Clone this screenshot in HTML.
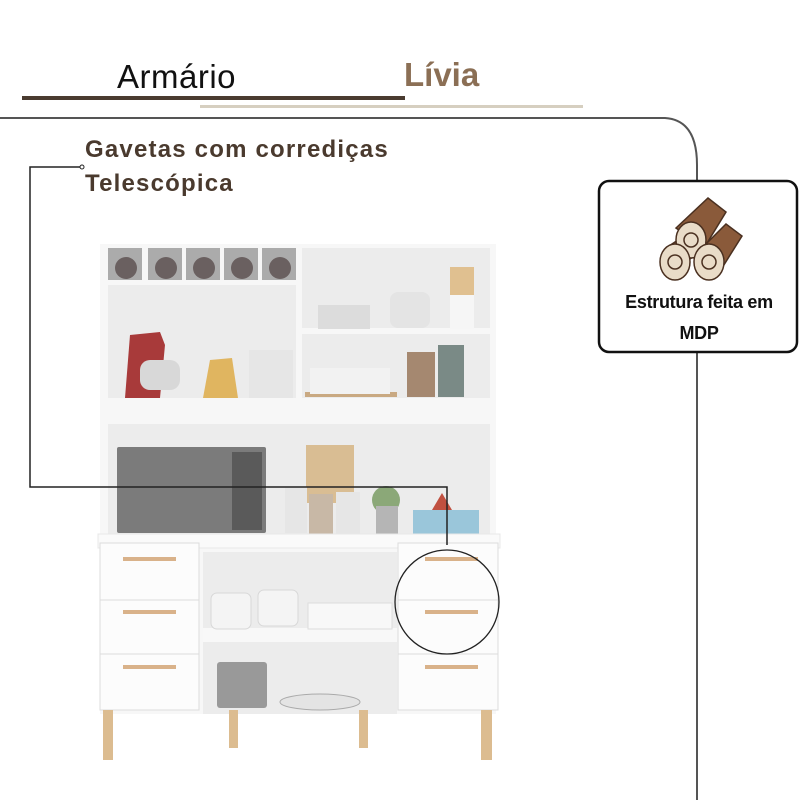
<!DOCTYPE html>
<html><head><meta charset="utf-8"><style>
body{margin:0;width:800px;height:800px;background:#fff;position:relative;overflow:hidden;font-family:"Liberation Sans",sans-serif}
.a{position:absolute}
</style></head><body>
<div class="a" style="left:117px;top:58px;font-size:33px;color:#111;letter-spacing:0.5px;font-weight:300">Armário</div>
<div class="a" style="left:404px;top:56px;font-size:33px;font-weight:bold;color:#8b6f55">Lívia</div>
<div class="a" style="left:22px;top:96px;width:383px;height:4px;background:#4a3b30"></div>
<div class="a" style="left:200px;top:105px;width:383px;height:3px;background:#d6cfc0"></div>
<div class="a" style="left:85px;top:133px;font-size:24px;font-weight:bold;color:#4a3a2e;line-height:34px;letter-spacing:1.2px">Gavetas com corrediças<br>Telescópica</div>

<div class="a" style="left:100px;top:244px;width:396px;height:470px;background:#f7f7f7"></div>
<div class="a" style="left:108px;top:285px;width:188px;height:113px;background:#ececec"></div>
<div class="a" style="left:302px;top:248px;width:188px;height:80px;background:#ececec"></div>
<div class="a" style="left:302px;top:334px;width:188px;height:64px;background:#ececec"></div>
<div class="a" style="left:108px;top:424px;width:382px;height:110px;background:#ececec"></div>
<div class="a" style="left:108px;top:248px;width:34px;height:32px;background:#ababab"></div>
<div class="a" style="left:148px;top:248px;width:34px;height:32px;background:#ababab"></div>
<div class="a" style="left:186px;top:248px;width:34px;height:32px;background:#ababab"></div>
<div class="a" style="left:224px;top:248px;width:34px;height:32px;background:#ababab"></div>
<div class="a" style="left:262px;top:248px;width:34px;height:32px;background:#ababab"></div>
<svg class="a" style="left:0;top:0" width="800" height="800">
<g fill="#6a6060"><circle cx="126" cy="268" r="11"/><circle cx="166" cy="268" r="11"/><circle cx="204" cy="268" r="11"/><circle cx="242" cy="268" r="11"/><circle cx="280" cy="268" r="11"/></g>
<path d="M125 398 L130 335 L160 332 L165 345 L160 398Z" fill="#a83a3a"/>
<rect x="140" y="360" width="40" height="30" rx="10" fill="#d8d8d8"/>
<path d="M203 398 L210 360 L232 358 L238 398Z" fill="#e0b560"/>
<rect x="249" y="350" width="44" height="48" fill="#e6e6e6"/>
<rect x="318" y="305" width="52" height="24" fill="#dcdcdc"/>
<rect x="390" y="292" width="40" height="36" rx="8" fill="#e4e4e4"/>
<rect x="450" y="295" width="24" height="34" fill="#f6f6f6"/>
<rect x="450" y="267" width="24" height="28" fill="#e0c090"/>
<rect x="305" y="392" width="92" height="5" fill="#c9a982"/>
<rect x="310" y="368" width="80" height="26" fill="#f2f2f2"/>
<rect x="407" y="352" width="28" height="45" fill="#a58870"/>
<rect x="438" y="345" width="26" height="52" fill="#7a8a86"/>
<rect x="117" y="447" width="149" height="86" rx="2" fill="#7b7b7b"/>
<rect x="232" y="452" width="30" height="78" fill="#5a5a5a"/>
<rect x="306" y="445" width="48" height="58" fill="#d9bd93"/>
<rect x="285" y="487" width="22" height="46" fill="#e6e6e6"/>
<rect x="309" y="494" width="24" height="40" fill="#c8b8a6"/>
<rect x="336" y="492" width="24" height="42" fill="#e6e6e6"/>
<circle cx="386" cy="500" r="14" fill="#8ba878"/>
<rect x="376" y="506" width="22" height="28" fill="#b5b5b5"/>
<rect x="413" y="510" width="66" height="30" fill="#9ac6da"/>
<path d="M432 510 L442 493 L452 510Z" fill="#c05040"/>
<rect x="98" y="534" width="402" height="14" fill="#fafafa" stroke="#e8e8e8"/>
<rect x="203" y="552" width="194" height="162" fill="#ececec"/>
<rect x="203" y="628" width="194" height="14" fill="#f8f8f8"/>
<rect x="211" y="593" width="40" height="36" rx="6" fill="#f4f4f4" stroke="#d8d8d8"/>
<rect x="258" y="590" width="40" height="36" rx="6" fill="#f4f4f4" stroke="#d8d8d8"/>
<rect x="308" y="603" width="84" height="26" fill="#f8f8f8" stroke="#ddd"/>
<rect x="217" y="662" width="50" height="46" rx="3" fill="#999"/>
<ellipse cx="320" cy="702" rx="40" ry="8" fill="#e4e4e4" stroke="#aaa"/>
<g fill="#fcfcfc" stroke="#dcdcdc"><rect x="100" y="543" width="99" height="57"/><rect x="100" y="600" width="99" height="54"/><rect x="100" y="654" width="99" height="56"/>
<rect x="398" y="543" width="100" height="57"/><rect x="398" y="600" width="100" height="54"/><rect x="398" y="654" width="100" height="56"/></g>
<g fill="#d9b28a"><rect x="123" y="557" width="53" height="4"/><rect x="123" y="610" width="53" height="4"/><rect x="123" y="665" width="53" height="4"/>
<rect x="425" y="557" width="53" height="4"/><rect x="425" y="610" width="53" height="4"/><rect x="425" y="665" width="53" height="4"/></g>
<g fill="#dcbc90"><rect x="103" y="710" width="10" height="50"/><rect x="229" y="710" width="9" height="38"/><rect x="359" y="710" width="9" height="38"/><rect x="481" y="710" width="11" height="50"/></g>
<path d="M0 118 L665 118 Q697 120 697 165 L697 800" fill="none" stroke="#555" stroke-width="2"/>
<path d="M82 167 L30 167 L30 487 L447 487 L447 545" fill="none" stroke="#222" stroke-width="1.5"/>
<circle cx="82" cy="167" r="2" fill="#fff" stroke="#222"/>
<circle cx="447" cy="602" r="52" fill="none" stroke="#222" stroke-width="1.3"/>
<rect x="599" y="181" width="198" height="171" rx="10" fill="#fff" stroke="#111" stroke-width="2.5"/>
<g stroke="#4a3020" stroke-width="1.5">
<path d="M676 228 L708 198 L726 212 L704 248Z" fill="#8a5a3a"/>
<path d="M702 248 L726 224 L742 236 L722 268Z" fill="#8a5a3a"/>
<path d="M666 248 L684 236 L700 252 L680 266Z" fill="#8a5a3a"/>
<ellipse cx="691" cy="240" rx="15" ry="18" fill="#e9dcc8"/>
<ellipse cx="675" cy="262" rx="15" ry="18" fill="#e9dcc8"/>
<ellipse cx="709" cy="262" rx="15" ry="18" fill="#e9dcc8"/>
<circle cx="691" cy="240" r="7" fill="none"/><circle cx="675" cy="262" r="7" fill="none"/><circle cx="709" cy="262" r="7" fill="none"/>
</g>
</svg>
<div class="a" style="left:599px;top:287px;width:200px;text-align:center;font-size:18px;font-weight:bold;color:#111;line-height:31px;letter-spacing:-0.3px">Estrutura feita em<br>MDP</div>
</body></html>
